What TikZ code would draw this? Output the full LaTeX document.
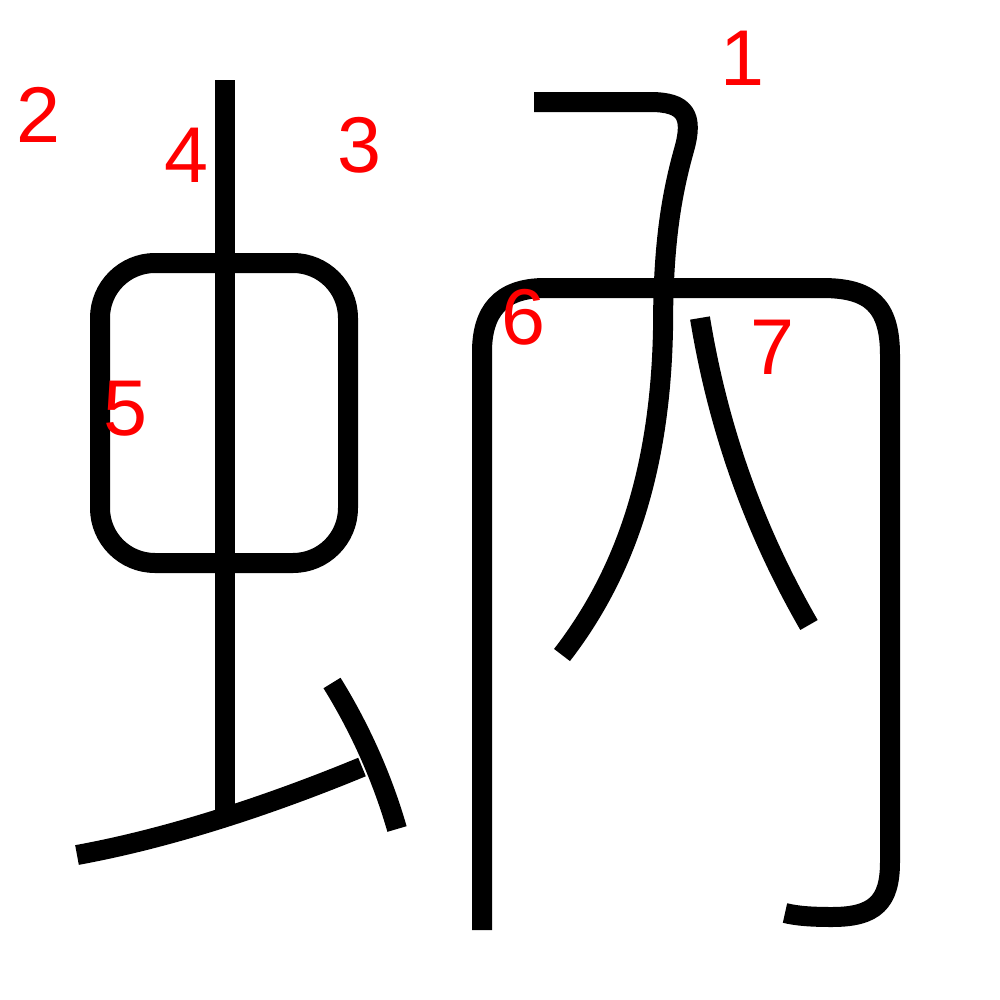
\documentclass[tikz,border=0pt]{standalone}
\usepackage{fontspec}
\setmainfont{Liberation Sans}
\begin{document}
\begin{tikzpicture}[x=0.2mm,y=-0.2mm,
  stroke/.style={draw=black,line width=4mm,line cap=butt,line join=round},
  num/.style={text=red,inner sep=0pt,font=\fontsize{45}{45}\selectfont}]
\useasboundingbox[fill=white] (0,0) rectangle (1000,1000);
% stroke 1
\coordinate (s1a) at (534,102);
\coordinate (s1b) at (562,655);
\draw[stroke] (s1a) -- (650,102) .. controls (685,102) and (694,115) .. (684,150)
  .. controls (670,200) and (663,250) .. (663,330)
  .. controls (660,480) and (620,580) .. (s1b);
% box of left part
\coordinate (bx1) at (100,263);
\coordinate (bx2) at (348,563);
\draw[stroke,rounded corners=11mm] (bx1) rectangle (bx2);
% vertical
\coordinate (v1) at (225,80);
\coordinate (v2) at (225,810);
\draw[stroke] (v1) -- (v2);
% rising stroke
\coordinate (r1) at (77,855);
\coordinate (r2) at (362,767);
\draw[stroke] (r1) .. controls (170,838) and (270,805) .. (r2);
% dot stroke
\coordinate (d1) at (332,683);
\coordinate (d2) at (397,829);
\draw[stroke] (d1) .. controls (355,720) and (380,770) .. (d2);
% enclosure
\coordinate (e1) at (482,930);
\coordinate (e2) at (785,913);
\draw[stroke] (e1) -- (482,352) .. controls (482,312) and (500,288) .. (545,288)
  -- (822,288) .. controls (870,288) and (890,305) .. (890,355)
  -- (890,862) .. controls (890,902) and (875,917) .. (832,917)
  .. controls (812,917) and (797,916) .. (e2);
% stroke 7
\coordinate (p1) at (700,318);
\coordinate (p2) at (809,625);
\draw[stroke] (p1) .. controls (720,440) and (760,540) .. (p2);
% labels
\node[num] (n1) at (742,58) {1};
\node[num] (n2) at (38,115) {2};
\node[num] (n3) at (359,145) {3};
\node[num] (n4) at (186,155) {4};
\node[num] (n5) at (125,409) {5};
\node[num] (n6) at (523,317) {6};
\node[num] (n7) at (772,347) {7};
\end{tikzpicture}
\end{document}
